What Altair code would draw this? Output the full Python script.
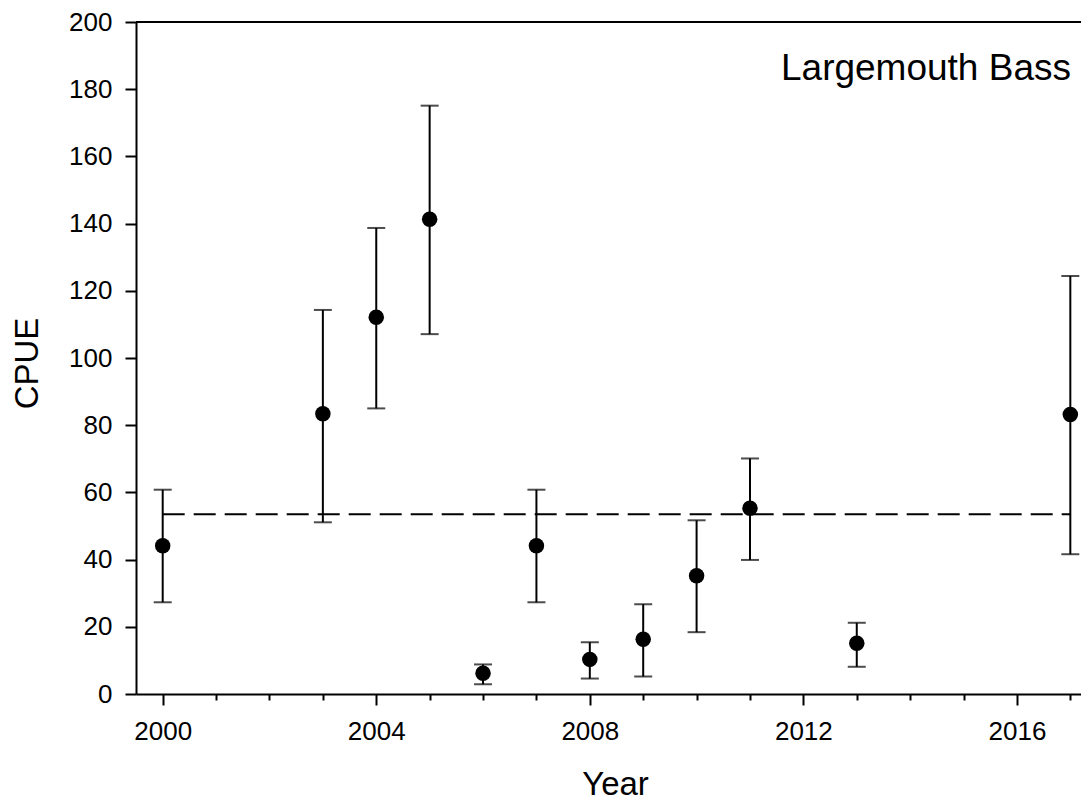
import altair as alt
import pandas as pd

# ---- data ----
years = [2000, 2003, 2004, 2005, 2006, 2007, 2008, 2009, 2010, 2011, 2013, 2017]
cpue = [44.1, 83.4, 112.1, 141.3, 6.2, 44.1, 10.3, 16.3, 35.2, 55.3, 15.1, 83.2]
lower = [27.3, 51.1, 85.0, 107.1, 2.9, 27.3, 4.6, 5.2, 18.4, 39.9, 8.1, 41.6]
upper = [60.8, 114.3, 138.7, 175.1, 8.8, 60.8, 15.4, 26.7, 51.7, 70.1, 21.2, 124.4]

mean_start = [2000]
mean_end = [2017]
mean_value = [53.5]

x_tick_values = list(range(2000, 2018))
y_tick_values = list(range(0, 201, 20))
species_label = "Largemouth Bass"

df = pd.DataFrame({"year": years, "cpue": cpue, "lower": lower, "upper": upper})
mean_df = pd.DataFrame({"start": mean_start, "end": mean_end, "value": mean_value})
label_df = pd.DataFrame({"label": [species_label]})

W, H = 945, 672
FONT = "Liberation Sans"

xscale = alt.Scale(domain=[1999.5, 2017.2], nice=False, zero=False)
yscale = alt.Scale(domain=[0, 200], nice=False, zero=True)

xaxis = alt.Axis(
    values=x_tick_values,
    format="d",
    labelExpr="datum.value % 4 == 0 ? datum.label : ''",
    tickSize={"condition": {"test": "datum.value % 4 == 0", "value": 11}, "value": 6},
    labelPadding=13,
    labelFontSize=26,
    title="Year",
    titleFontSize=33,
    titleFontWeight="normal",
    titleX=479,
    titleY=100,
    titleBaseline="alphabetic",
    titleAlign="center",
    grid=False,
    labelFlush=False,
    labelOverlap=False,
)
yaxis = alt.Axis(
    values=y_tick_values,
    tickSize=11,
    labelPadding=13,
    labelFontSize=26,
    title="CPUE",
    titleFontSize=33,
    titleFontWeight="normal",
    titleAngle=270,
    titleX=-99,
    titleY=341,
    titleBaseline="alphabetic",
    titleAlign="center",
    grid=False,
    labelFlush=False,
)

base = alt.Chart(df)

bars = base.mark_rule(strokeWidth=2, color="black").encode(
    x=alt.X("year:Q", scale=xscale, axis=xaxis),
    y=alt.Y("lower:Q", scale=yscale, axis=yaxis),
    y2="upper:Q",
)
caps_lo = base.mark_tick(orient="horizontal", size=18, thickness=2, color="black").encode(
    x="year:Q", y="lower:Q"
)
caps_hi = base.mark_tick(orient="horizontal", size=18, thickness=2, color="black").encode(
    x="year:Q", y="upper:Q"
)
points = base.mark_circle(size=240, color="black", opacity=1).encode(
    x="year:Q", y="cpue:Q"
)
mean_line = alt.Chart(mean_df).mark_rule(strokeDash=[22, 9], strokeWidth=2, color="black").encode(
    x="start:Q", x2="end:Q", y="value:Q"
)
top_line = alt.Chart(mean_df).mark_rule(strokeWidth=2, color="black").encode(
    x=alt.value(0), x2=alt.value(W), y=alt.value(0)
)
species_text = alt.Chart(label_df).mark_text(
    align="right", baseline="alphabetic", fontSize=37, font=FONT, color="black"
).encode(text="label:N", x=alt.value(935), y=alt.value(58))

chart = (
    alt.layer(top_line, mean_line, bars, caps_lo, caps_hi, points, species_text)
    .properties(
        width=W,
        height=H,
        autosize=alt.AutoSizeParams(type="none"),
        padding={"left": 128, "top": 14, "right": 0, "bottom": 106},
    )
    .configure_view(strokeWidth=0)
    .configure_axis(
        labelFont=FONT,
        titleFont=FONT,
        labelColor="black",
        titleColor="black",
        domainColor="black",
        tickColor="black",
        domainWidth=2,
        tickWidth=2,
    )
)

chart.save("out.html", embed_options={"renderer": "svg", "actions": False})
